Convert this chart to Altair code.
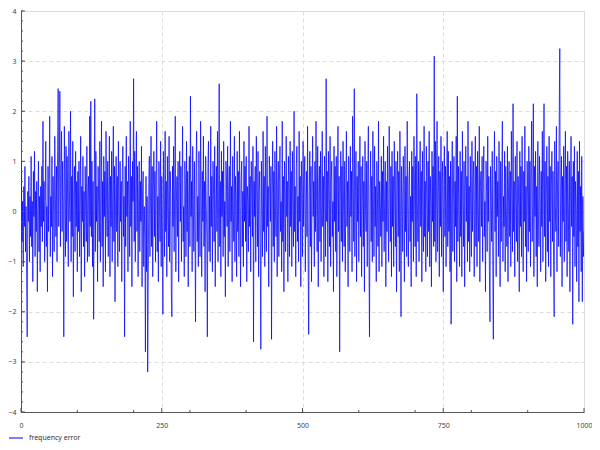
import altair as alt
import pandas as pd

# frequency error samples, x = 0..1000 (estimated)
error_values = [
    1.0, 0.3, -0.6, 0.2, -1.1, 0.5, -0.3, 0.9, -0.8, 0.1, -1.3, -2.5, 0.4, -0.2, 0.7, -1.0, 0.3, -0.5, 1.1, -0.7,
    0.2, -1.4, 0.8, -0.1, 1.2, -0.9, 0.4, -0.4, 0.6, -1.6, 0.0, 1.0, -0.8, 0.3, -1.2, 0.5, -0.3, 0.9, -0.6, 1.8,
    -0.2, 0.6, -1.0, 0.2, 1.4, -0.7, 0.1, -1.6, 0.9, -0.4, 0.5, 1.9, -0.9, 0.3, -0.3, 1.1, -1.3, 0.7, 0.0, -0.8,
    1.5, 0.4, -0.5, 0.9, -1.0, 1.2, 2.45, -0.3, 0.6, 2.4, -0.7, 0.8, 1.6, -0.4, 1.0, 0.2, -2.5, 1.7, 0.5, -0.9,
    1.3, -0.6, 1.1, 0.1, -1.1, 1.6, 0.4, -0.2, 2.0, -1.0, 0.7, -0.5, 1.4, -1.7, 0.3, 0.9, -0.8, 1.2, -0.3, 0.6,
    -1.2, 0.8, -0.4, 1.0, -0.9, 0.2, 1.5, -1.6, 0.5, -0.2, 1.1, -0.7, 0.4, -1.3, 0.9, 0.0, -0.6, 1.3, -1.0, 0.3,
    0.7, -0.9, 1.9, -0.3, 2.2, -0.5, 1.0, -1.1, 0.6, -2.15, 0.4, 2.25, -0.8, 1.2, -0.2, 0.5, -1.4, 0.9, 0.1, -0.6,
    1.4, -1.0, 0.3, 1.8, -0.7, 0.6, -1.5, 1.1, -0.1, 0.8, -1.2, 1.6, 0.2, -0.5, 1.0, -0.9, 0.4, 1.5, -1.3, 0.7,
    -0.3, 1.2, -1.0, 0.5, 1.7, -0.6, 0.9, -1.8, 0.2, 1.1, -0.4, 0.7, -1.1, 1.4, 0.0, -0.8, 1.0, -0.2, 0.6, -1.4,
    0.8, 1.3, -0.5, 0.3, -2.5, 0.9, -0.7, 1.5, -0.1, 0.6, -1.2, 1.1, 0.4, -0.9, 1.8, -0.3, 0.7, -1.5, 1.0, 0.2,
    2.65, -0.6, 1.2, -1.0, 0.5, 1.6, -0.4, 0.9, -1.3, 0.3, 1.0, -0.8, 0.6, -0.2, 1.3, -1.5, 0.4, 0.8, -1.1, 0.1,
    -0.5, -2.8, 0.7, -1.2, 0.3, -3.2, -1.4, 0.6, 1.1, -0.9, 0.2, 1.5, -0.7, 0.9, -1.3, 0.4, 1.2, -0.5, 0.8, -1.0,
    0.5, 1.8, -0.8, 0.3, -1.4, 1.0, 0.1, -0.6, 1.4, -1.1, 0.7, -0.2, -2.05, 1.2, 0.4, -0.9, 1.6, -0.4, 0.6, -1.3,
    1.1, 0.0, -0.7, 1.5, -1.0, 0.8, 0.3, -1.6, -2.1, 0.9, -0.3, 1.3, -0.8, 0.5, 1.9, -1.2, 0.2, 0.7, -0.5, 1.0,
    -1.4, 0.6, 1.2, -0.2, 0.9, -1.0, 0.4, 1.7, -0.6, 0.1, -1.3, 1.0, 0.5, -0.9, 1.4, -0.4, 0.8, -1.5, 0.3, 1.1,
    -0.7, 2.3, -0.1, 0.6, -1.2, 1.3, 0.2, -0.8, 1.0, -0.4, -2.2, 0.9, 1.6, -0.6, 0.3, -1.1, 1.2, 0.0, -0.9, 1.8,
    0.4, -1.3, 0.8, -0.2, 1.5, -0.7, 0.6, -1.6, 1.1, 0.2, -0.5, -2.5, 0.9, 1.4, -0.8, 0.3, -1.0, 1.7, -0.3, 0.7,
    -1.2, 1.0, 0.5, -0.6, 1.3, -1.5, 0.1, 0.9, -0.4, 1.6, -1.0, 0.3, 2.55, -0.7, 0.6, -1.3, 1.2, -0.1, 0.8, -0.9,
    1.4, -0.5, 0.2, -1.7, 1.0, 0.6, -0.3, 1.3, -1.1, 0.4, 0.9, -0.8, 1.8, -0.2, 0.5, -1.4, 1.1, 0.0, -0.6, 1.5,
    -1.0, 0.7, 0.3, -1.3, 1.2, -0.4, 0.8, -0.9, 1.6, 0.1, -1.5, 0.6, 1.0, -0.7, 0.4, -1.1, 1.4, -0.2, 0.9, -0.6,
    1.1, -1.4, 0.5, 0.2, -0.8, 1.7, -0.3, 0.7, -1.2, 1.0, 0.4, -0.5, 1.3, -2.6, 0.6, -0.1, 0.9, -1.0, 1.5, 0.3,
    -0.7, 1.2, -1.3, 0.4, 0.8, -0.6, -2.75, 1.0, 0.1, -0.9, 1.6, -0.4, 0.7, -1.1, 1.3, 0.2, -0.8, 1.9, -0.3, 0.5,
    -1.5, 1.1, 0.6, -0.2, 0.9, -2.55, 0.3, 1.4, -0.7, 0.8, -1.0, 1.2, 0.0, -0.5, 1.7, -1.3, 0.4, 1.0, -0.9, 0.6,
    1.3, -0.4, 0.2, -1.2, 1.8, -0.6, 0.7, -1.6, 1.0, 0.3, -0.8, 1.5, -0.1, 0.6, -1.4, 1.1, 0.5, -0.9, 1.4, -0.3,
    0.8, -1.1, 1.2, 0.1, -0.7, 2.0, -0.4, 0.5, -1.3, 0.9, 1.3, -0.6, 0.3, -1.0, 1.6, -0.2, 0.7, -1.5, 1.0, 0.4,
    -0.9, 1.4, -0.3, 0.6, 1.1, -1.2, 0.2, 0.8, -0.5, 1.7, -1.0, -2.45, 0.4, 1.2, -0.7, 0.9, -1.4, 0.3, 1.5, -0.1,
    0.6, -1.1, 1.0, -0.4, 1.8, 0.2, -0.8, 1.3, -1.5, 0.5, 0.9, -0.6, 1.2, -1.0, 0.1, 1.6, -0.3, 0.7, -1.3, 1.1,
    0.4, -0.9, 2.65, -0.2, 0.8, -1.4, 1.2, 0.3, -0.7, 1.5, -1.1, 0.6, 1.0, -0.5, 0.2, -1.6, 1.3, -0.2, 0.9, -0.8,
    1.1, -1.3, 0.5, 1.7, -0.4, 0.7, -2.8, 0.2, 1.2, -0.6, 0.9, -1.0, 1.4, 0.0, -0.7, 1.0, -1.2, 0.4, 1.6, -0.3,
    0.6, -1.5, 1.1, 0.3, -0.8, 1.3, -0.1, 0.8, -1.2, 1.9, 0.5, -0.6, 2.45, -0.9, 0.4, 1.2, -1.4, 0.7, -0.2, 1.0,
    -1.0, 0.5, 1.5, -0.5, 0.9, -1.3, 0.2, 1.1, -0.7, 0.6, -1.6, 1.4, 0.0, -0.4, 1.0, -1.1, 0.8, 1.7, -0.8, -2.5,
    0.3, 1.2, -0.6, 0.7, -1.0, 1.6, 0.1, -0.9, 1.3, -0.3, 0.5, -1.4, 1.0, 0.4, -0.7, 1.8, -1.2, 0.6, 0.2, -0.5,
    1.1, -1.1, 0.8, -0.2, 1.5, -0.8, 0.3, 1.0, -1.5, 0.6, -0.4, 1.3, 0.0, -1.0, 1.7, 0.5, -0.6, 0.9, -1.3, 1.2,
    -0.3, 0.7, -1.1, 1.4, 0.2, -0.7, 1.0, -1.6, 0.4, 1.2, -0.5, 0.8, -1.2, 1.6, -0.1, -2.1, 0.9, 0.3, -0.8, 1.1,
    0.5, -1.4, 1.3, -0.4, 0.7, -0.9, 1.8, 0.1, -1.1, 0.6, 1.0, -0.6, 0.3, -1.5, 1.2, -0.2, 0.9, -1.0, 1.5, 0.4,
    -0.7, 1.1, -1.3, 2.35, 0.2, -0.6, 1.0, -1.0, 0.5, 1.4, -0.3, 0.8, -1.4, 1.2, 0.0, -0.8, 1.7, -0.5, 0.6, -1.2,
    1.3, 0.3, -0.9, 1.0, -0.4, 1.6, -1.1, 0.7, 0.2, -1.5, 1.2, -0.2, 0.9, -0.7, 3.1, -0.6, 1.4, -1.0, 0.5, 1.8,
    -0.8, 0.4, 1.1, -1.3, 0.8, -0.3, 1.5, -0.9, 0.6, 1.0, -1.6, 0.3, 1.3, -0.5, 0.9, -1.1, 0.2, 1.6, -0.7, 1.2,
    -0.4, 0.7, -1.2, 1.0, -2.25, 0.5, 1.4, -0.8, 0.3, 1.1, -1.0, 0.6, -0.3, 1.5, -1.4, 2.3, -0.6, 0.9, 0.1, -1.1,
    1.2, -0.5, 0.8, -1.3, 1.6, 0.2, -0.7, 1.0, -1.5, 0.4, 1.3, -0.2, 0.7, -1.0, 1.8, -0.6, 0.5, -1.2, 1.1, 0.0,
    -0.9, 1.4, -0.4, 0.6, 1.0, -1.3, 0.3, 1.5, -0.7, 0.9, -1.1, 1.2, 0.1, -0.6, 1.7, -1.4, 0.5, 0.8, -0.3, 1.1,
    -1.0, 0.6, 1.3, -0.5, 0.2, -1.6, 1.0, 0.4, -0.8, 1.5, -0.2, 0.7, -1.2, -2.2, 0.9, 0.3, -0.6, 1.2, -1.1, -2.55,
    0.5, 1.6, -0.4, 0.8, -1.3, 1.1, -0.1, 0.6, -0.9, 1.4, 0.2, -1.5, 1.0, -0.6, 0.7, 1.8, -1.0, 0.3, -0.3, 1.2,
    -1.2, 0.9, 0.0, -0.7, 1.3, -1.4, 0.5, 1.0, -0.5, 0.8, -1.1, 1.6, 0.3, -0.8, 2.15, -0.4, 0.6, -1.3, 1.1, 0.2,
    -0.6, 1.4, -1.0, 0.7, 0.1, -1.6, 1.2, -0.3, 0.9, -0.9, 1.5, 0.4, -1.2, 0.8, -0.2, 1.7, -0.7, 0.5, -1.4, 1.0,
    0.3, -0.8, 1.3, -0.4, 1.0, -1.1, 0.6, 1.8, -0.6, 0.2, 2.15, -1.3, 0.9, -0.1, 1.2, -0.9, 0.5, -1.5, 1.4, 0.0,
    -0.7, 1.1, 0.4, -1.2, 0.8, -0.3, 1.6, -1.0, 0.6, 2.15, -0.5, 1.0, -1.4, 0.3, 1.3, -0.8, 0.7, -1.1, 1.5, -0.2,
    0.9, -1.3, 0.5, 1.2, -0.6, 0.8, -1.0, -2.1, 1.4, 0.1, -0.4, 1.7, -1.2, 0.6, 1.0, -0.7, 1.9, 3.25, -0.9, 0.4,
    1.1, -1.5, 0.7, -0.2, 1.3, -1.0, 0.5, 1.6, -0.6, 0.9, -1.3, 1.2, 0.2, -0.8, 1.0, -1.6, 0.4, 1.5, -0.3, 0.7,
    -2.25, 1.0, -0.5, 1.3, -1.1, 0.6, 0.1, -1.4, 1.2, -0.7, 0.8, -1.8, 1.4, -0.4, 0.5, -1.2, 1.1, -1.8, 0.3, -0.9,
    -0.4,
]
sample_index = list(range(len(error_values)))
series_name = "frequency error"

x_major_ticks = [0, 250, 500, 750, 1000]
x_minor_ticks = [100, 200, 300, 400, 600, 700, 800, 900]
y_major_ticks = [-4, -3, -2, -1, 0, 1, 2, 3, 4]
y_minor_ticks = [round(-4 + 0.2 * i, 1) for i in range(41)]

W, H = 563, 401
FONT = "Noto Sans"
GRID = "#dcdcdc"
AXIS = "#555555"
LINE = "#0000ff"
FS = 7

df = pd.DataFrame({"sample": sample_index, "error": error_values, "series": series_name})

xscale = alt.Scale(domain=[0, 1000], nice=False, zero=False)
yscale = alt.Scale(domain=[-4, 4], nice=False, zero=False)

line = alt.Chart(df).mark_line(strokeWidth=1, opacity=0.72, clip=True).encode(
    x=alt.X("sample:Q", scale=xscale,
            axis=alt.Axis(values=x_major_ticks, format="d", grid=True, gridDash=[4, 3], gridColor=GRID,
                          domainColor=AXIS, tickSize=0, labelFontSize=FS, labelColor="#444444",
                          labelPadding=9, labelFont=FONT, title=None, labelFlush=False)),
    y=alt.Y("error:Q", scale=yscale,
            axis=alt.Axis(values=y_major_ticks, format="d", grid=True, gridDash=[4, 3], gridColor=GRID,
                          domainColor=AXIS, tickSize=0, labelFontSize=FS, labelColor="#444444",
                          labelPadding=5, labelFont=FONT, title=None, labelFlush=False)),
    color=alt.Color("series:N", scale=alt.Scale(range=[LINE]),
                    legend=alt.Legend(orient="none", legendX=-13, legendY=H + 18, title=None,
                                      symbolType="stroke", symbolSize=196, symbolStrokeWidth=1.2,
                                      symbolStrokeColor=LINE, symbolOpacity=0.85,
                                      labelFontSize=FS, labelFont=FONT, labelColor="#333333",
                                      padding=0, labelOffset=5)),
)

ymin_df = pd.DataFrame({"v": y_minor_ticks})
ymaj_df = pd.DataFrame({"v": y_major_ticks})
xmin_df = pd.DataFrame({"v": x_minor_ticks})
xmaj_df = pd.DataFrame({"v": x_major_ticks})

y_minor = alt.Chart(ymin_df).mark_rule(color=AXIS, strokeWidth=1).encode(
    y=alt.Y("v:Q", scale=yscale), x=alt.value(0), x2=alt.value(2))
y_major = alt.Chart(ymaj_df).mark_rule(color=AXIS, strokeWidth=1).encode(
    y=alt.Y("v:Q", scale=yscale), x=alt.value(0), x2=alt.value(4))
x_minor = alt.Chart(xmin_df).mark_rule(color=AXIS, strokeWidth=1).encode(
    x=alt.X("v:Q", scale=xscale), y=alt.value(H), y2=alt.value(H - 2))
x_major = alt.Chart(xmaj_df).mark_rule(color=AXIS, strokeWidth=1).encode(
    x=alt.X("v:Q", scale=xscale), y=alt.value(H), y2=alt.value(H - 4))

chart = alt.layer(line, y_minor, y_major, x_minor, x_major).properties(
    width=W, height=H,
    autosize=alt.AutoSizeParams(type="none"),
    padding={"left": 13, "top": 3, "right": 8, "bottom": 36},
).configure_view(strokeWidth=0).configure(background="white")

chart.save("out.html", embed_options={"renderer": "svg", "actions": False})
